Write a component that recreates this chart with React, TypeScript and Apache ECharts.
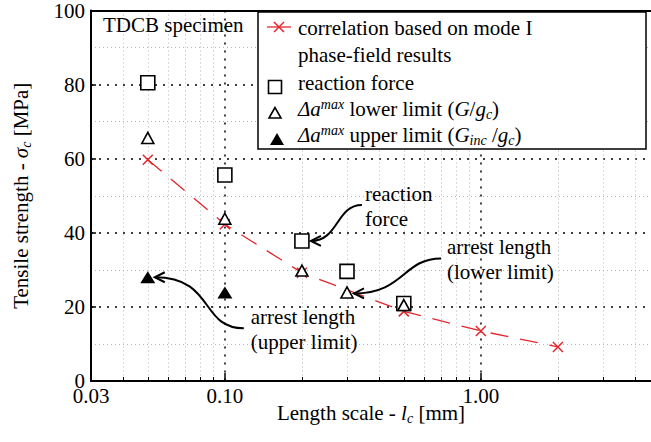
import React, { useEffect, useRef } from 'react';
import * as echarts from 'echarts';

const FONT = 'Liberation Serif, DejaVu Serif, serif';
const RED = '#e3262c';
const FS = 21;

// correlation based on mode I phase-field results
const corrX = [0.05, 0.1, 0.2, 0.5, 1, 2];
const corrY = [59.7, 42.3, 29.2, 18.8, 13.5, 9.2];
// reaction force
const forceX = [0.05, 0.1, 0.2, 0.3, 0.5];
const forceY = [80.5, 55.6, 37.8, 29.6, 20.9];
// Δa^max lower limit
const lowerX = [0.05, 0.1, 0.2, 0.3, 0.5];
const lowerY = [65.6, 43.8, 29.8, 23.9, 20.5];
// Δa^max upper limit
const upperX = [0.05, 0.1];
const upperY = [28.0, 23.9];

const xLabelValues = [0.03, 0.1, 1];
const xMajorTicks = [0.1, 1];
const xMinorTicks = [0.04, 0.05, 0.06, 0.07, 0.08, 0.09, 0.2, 0.3, 0.4, 0.5, 0.6, 0.7, 0.8, 0.9, 2, 3, 4];

const zip = (xs: number[], ys: number[]) => xs.map((x, i) => [x, ys[i]]);

const baseText = { fontFamily: FONT, fontSize: FS, lineHeight: 24 };
const rich = {
  i: { fontFamily: FONT, fontSize: FS, fontStyle: 'italic', lineHeight: 24, fill: '#000', color: '#000' },
  sub: { fontFamily: FONT, fontSize: 14, fontStyle: 'italic', lineHeight: 12, verticalAlign: 'bottom', fill: '#000', color: '#000' },
  sup: { fontFamily: FONT, fontSize: 14, fontStyle: 'italic', lineHeight: 12, verticalAlign: 'top', fill: '#000', color: '#000' },
};

export default function App() {
  const ref = useRef<HTMLDivElement>(null);
  useEffect(() => {
    if (!ref.current) return;
    const chart = echarts.init(ref.current, undefined, { renderer: 'svg' });
    const minorGrid = { show: true, lineStyle: { color: '#b5b5b5', type: [1, 3], width: 1 } };
    const majorGrid = { show: true, lineStyle: { color: '#000', type: [2, 6], width: 1.5 } };
    chart.setOption({
      animation: false,
      backgroundColor: '#fff',
      textStyle: { fontFamily: FONT, color: '#000' },
      grid: { left: 91, right: 0, top: 7, bottom: 61 },
      xAxis: [
        {
          type: 'log', logBase: 10, min: 0.03, max: 4.62, position: 'bottom',
          name: 'Length scale - {i|l}{sub|c} [mm]', nameLocation: 'middle', nameGap: 20, nameMoveOverlap: false,
          nameTextStyle: { ...baseText, color: '#000', rich },
          axisLine: { show: true, onZero: false, lineStyle: { color: '#000', width: 2 } },
          axisTick: { show: true, inside: true, length: 8, customValues: xMajorTicks, lineStyle: { color: '#000', width: 1.5 } },
          axisLabel: { show: true, customValues: xLabelValues, formatter: (v: number) => v.toFixed(2), color: '#000', fontFamily: FONT, fontSize: FS, lineHeight: 14, margin: 8 },
          splitLine: majorGrid,
        },
        {
          type: 'log', logBase: 10, min: 0.03, max: 4.62, position: 'bottom',
          axisLine: { show: false },
          axisTick: { show: true, inside: true, length: 4, customValues: xMinorTicks, lineStyle: { color: '#000', width: 1 } },
          axisLabel: { show: false },
          splitLine: minorGrid,
        },
        {
          type: 'value', min: 0, max: 1, position: 'top',
          axisLine: { show: true, onZero: false, lineStyle: { color: '#000', width: 2 } },
          axisTick: { show: false }, axisLabel: { show: false }, splitLine: { show: false },
        },
      ],
      yAxis: {
        type: 'value', min: 0, max: 100, interval: 20,
        name: 'Tensile strength - {i|σ}{sub|c} [MPa]', nameLocation: 'middle', nameGap: 58, nameMoveOverlap: false,
        nameTextStyle: { ...baseText, color: '#000', rich },
        axisLine: { show: true, onZero: false, lineStyle: { color: '#000', width: 2 } },
        axisTick: { show: true, inside: true, length: 5, lineStyle: { color: '#000', width: 1.5 } },
        axisLabel: { color: '#000', fontFamily: FONT, fontSize: FS, lineHeight: 14, margin: 6 },
        splitLine: majorGrid,
        minorTick: { show: false, splitNumber: 2 },
        minorSplitLine: minorGrid,
      },
      series: [
        {
          name: 'correlation based on mode I phase-field results', type: 'line', xAxisIndex: 0,
          data: zip(corrX, corrY),
          symbol: 'path://M0,0L10,10M0,10L10,0', symbolSize: 10,
          itemStyle: { color: 'rgba(0,0,0,0)', borderColor: RED, borderWidth: 1.5 },
          lineStyle: { color: RED, width: 1.3, type: [18, 12] },
          z: 2,
        },
        {
          name: 'reaction force', type: 'scatter', xAxisIndex: 0, data: zip(forceX, forceY),
          symbol: 'rect', symbolSize: 14,
          itemStyle: { color: '#fff', borderColor: '#000', borderWidth: 1.6, opacity: 1 }, z: 3,
        },
        {
          name: 'lower limit', type: 'scatter', xAxisIndex: 0, data: zip(lowerX, lowerY),
          symbol: 'triangle', symbolSize: [12, 11],
          itemStyle: { color: '#fff', borderColor: '#000', borderWidth: 1.6, opacity: 1 }, z: 4,
        },
        {
          name: 'upper limit', type: 'scatter', xAxisIndex: 0, data: zip(upperX, upperY),
          symbol: 'triangle', symbolSize: [15, 12],
          itemStyle: { color: '#000', opacity: 1 }, z: 5,
        },
      ],
    });

    const px = (x: number, y: number) => chart.convertToPixel({ xAxisIndex: 0, yAxisIndex: 0 }, [x, y]) as number[];
    const txt = (x: number, y: number, text: string, align = 'left') => ({
      type: 'text', x, y, z: 100,
      style: { text, ...baseText, fill: '#000', align, verticalAlign: 'middle', rich },
    });
    const arrow = (tip: number[], start: number[], k1: number, k2: number) => [
      {
        type: 'bezierCurve', z: 100,
        shape: { x1: start[0], y1: start[1], cpx1: start[0] - k1, cpy1: start[1], cpx2: tip[0] + k2, cpy2: tip[1], x2: tip[0], y2: tip[1] },
        style: { stroke: '#000', lineWidth: 2, fill: 'none' },
      },
      {
        type: 'polyline', z: 100,
        shape: { points: [[tip[0] + 10, tip[1] - 5], [tip[0], tip[1]], [tip[0] + 10, tip[1] + 5]] },
        style: { stroke: '#000', lineWidth: 2, fill: 'none' },
      },
    ];

    const p1 = px(forceX[2], forceY[2]);
    const t1 = [p1[0] + 9, p1[1]];
    const p2 = px(lowerX[3], lowerY[3]);
    const t2 = [p2[0] + 7, p2[1] + 1];
    const p3 = px(upperX[0], upperY[0]);
    const t3 = [p3[0] + 7, p3[1]];

    const LX = 258, LY = 12;
    const graphic: any[] = [
      txt(103, 25, 'TDCB specimen'),
      { type: 'rect', z: 90, shape: { x: LX, y: LY, width: 388, height: 137 }, style: { fill: '#fff', stroke: '#000', lineWidth: 1.5 } },
      { type: 'line', z: 100, shape: { x1: 267, y1: 27, x2: 291, y2: 27 }, style: { stroke: RED, lineWidth: 1.3 } },
      { type: 'line', z: 100, shape: { x1: 274, y1: 22, x2: 284, y2: 32 }, style: { stroke: RED, lineWidth: 1.5 } },
      { type: 'line', z: 100, shape: { x1: 274, y1: 32, x2: 284, y2: 22 }, style: { stroke: RED, lineWidth: 1.5 } },
      txt(298, 28, 'correlation based on mode I'),
      txt(298, 55, 'phase-field results'),
      { type: 'rect', z: 100, shape: { x: 268.5, y: 80.5, width: 13, height: 13 }, style: { fill: '#fff', stroke: '#000', lineWidth: 1.6 } },
      txt(298, 83, 'reaction force'),
      { type: 'polygon', z: 100, shape: { points: [[275, 107.5], [269, 118], [281, 118]] }, style: { fill: '#fff', stroke: '#000', lineWidth: 1.6 } },
      txt(298, 109, '{i|Δa}{sup|max} lower limit ({i|G}/{i|g}{sub|c})'),
      { type: 'polygon', z: 100, shape: { points: [[277, 133], [270, 145], [284, 145]] }, style: { fill: '#000' } },
      txt(298, 135, '{i|Δa}{sup|max} upper limit ({i|G}{sub|inc} /{i|g}{sub|c})'),
      ...arrow(t1, [t1[0] + 51, t1[1] - 36], 26, 28),
      txt(t1[0] + 54, t1[1] - 47, 'reaction'),
      txt(t1[0] + 54, t1[1] - 22, 'force'),
      ...arrow(t2, [t2[0] + 87, t2[1] - 35], 38, 50),
      txt(t2[0] + 93, t2[1] - 46, 'arrest length'),
      txt(t2[0] + 93, t2[1] - 21, '(lower limit)'),
      ...arrow(t3, [t3[0] + 89, t3[1] + 51], 44, 60),
      txt(t3[0] + 96, t3[1] + 40, 'arrest length'),
      txt(t3[0] + 96, t3[1] + 65, '(upper limit)'),
    ];
    chart.setOption({ graphic });
    return () => chart.dispose();
  }, []);
  return <div ref={ref} style={{ position: 'fixed', left: 0, top: 0, width: 651, height: 442 }} />;
}
